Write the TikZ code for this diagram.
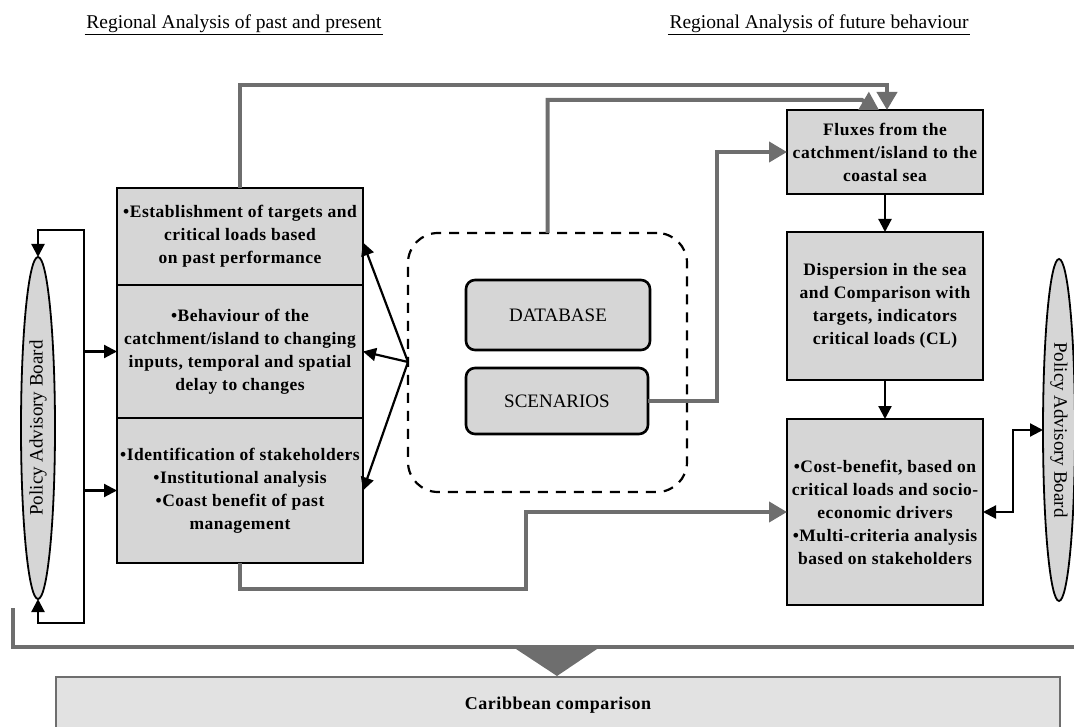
\documentclass[tikz,border=0pt]{standalone}
\usepackage{fontspec}
\setmainfont{Liberation Serif}
\newfontfamily\boxfont[LetterSpace=3]{Liberation Serif}
\usepackage{tikz}
\usepackage{xcolor}
\usetikzlibrary{arrows.meta,positioning,calc,shapes.geometric}
\definecolor{cFill}{HTML}{D6D6D6}
\definecolor{cLight}{HTML}{E2E2E2}
\definecolor{cGray}{HTML}{6E6E6E}
\definecolor{cInk}{HTML}{000000}
\tikzset{
  >={Triangle[length=13pt,width=13pt]},
  box/.style   ={draw=cInk,line width=2.6pt,fill=cFill,align=center,outer sep=0pt,
                 inner sep=2pt,font=\boxfont\bfseries\fontsize{17.5}{23}\selectfont},
  dbbox/.style ={box,rounded corners=9pt,font=\fontsize{19}{22}\selectfont},
  dashbox/.style={draw=cInk,line width=2.2pt,dash pattern=on 10pt off 8pt,
                 rounded corners=30pt,outer sep=0pt},
  pab/.style   ={ellipse,draw=cInk,line width=1.8pt,fill=cFill,minimum width=34pt,
                 minimum height=342pt,inner sep=0pt,outer sep=0pt},
  pabtxt/.style={font=\fontsize{19}{20}\selectfont,inner sep=0pt},
  ar/.style    ={->,line width=2.2pt,cInk},
  garr/.style  ={->,line width=4pt,cGray,>={Triangle[length=18pt,width=20pt]}},
  gline/.style ={line width=4pt,cGray},
  hd/.style    ={font=\fontsize{19.5}{22}\selectfont,inner sep=1.5pt},
  cbox/.style  ={draw=cGray,line width=1.5pt,fill=cLight,
                 font=\boxfont\bfseries\fontsize{18}{20}\selectfont},
}
\begin{document}
\begin{tikzpicture}[x=1pt,y=-1pt]
\useasboundingbox (0,0) rectangle (1074,727);

% headings
\node[hd] (hPast) at (234,24) {Regional Analysis of past and present};
\draw[line width=1.6pt] (hPast.south west) -- (hPast.south east);
\node[hd] (hFuture) at (819,24) {Regional Analysis of future behaviour};
\draw[line width=1.6pt] (hFuture.south west) -- (hFuture.south east);

% left: past and present
\node[box,minimum width=246pt,minimum height=97pt] (B1) at (240,236.5)
  {\textbullet Establishment of targets and\\critical loads based\\on past performance};
\node[box,minimum width=246pt,minimum height=133pt,below=0pt of B1] (B2)
  {\textbullet Behaviour of the\\catchment/island to changing\\inputs, temporal and spatial\\delay to changes};
\node[box,minimum width=246pt,minimum height=145pt,below=0pt of B2] (B3)
  {\textbullet Identification of stakeholders\\\textbullet Institutional analysis\\\textbullet Coast benefit of past\\management};

% middle: data
\node[dashbox,minimum width=279pt,minimum height=259pt] (dash) at (547.5,362.5) {};
\node[dbbox,minimum width=184pt,minimum height=70pt] (DB) at (558,315) {DATABASE};
\node[dbbox,minimum width=182pt,minimum height=66pt] (Scen) at (557,401) {SCENARIOS};
\coordinate (hub) at (408,362);

% right: future behaviour
\node[box,minimum width=196pt,minimum height=84pt] (Fluxes) at (885,152)
  {Fluxes from the\\catchment/island to the\\coastal sea};
\node[box,minimum width=196pt,minimum height=148pt,below=38pt of Fluxes] (Disp)
  {Dispersion in the sea\\and Comparison with\\targets, indicators\\critical loads (CL)};
\node[box,minimum width=196pt,minimum height=186pt,below=39pt of Disp] (Cost)
  {\textbullet Cost-benefit, based on\\critical loads and socio-\\economic drivers\\\textbullet Multi-criteria analysis\\based on stakeholders};

% policy boards
\node[pab] (PABl) at (38,428) {};
\node[pabtxt,rotate=90] (PABlt) at (PABl) {Policy Advisory Board};
\node[pab,minimum width=32pt] (PABr) at (1059,430) {};
\node[pabtxt,rotate=-90] (PABrt) at (PABr) {Policy Advisory Board};

% black connectors
\coordinate (lT) at (84,230);
\coordinate (lB) at (84,623);
\draw[ar,<->] (PABl.north) |- (lT) -- (lB) -| (PABl.south);
\draw[ar] (B2.west -| lT) -- (B2.west);
\draw[ar] (B3.west -| lT) -- (B3.west);
\draw[ar] (hub) -- ([yshift=-6pt]B1.east);
\draw[ar] (hub) -- (B2.east);
\draw[ar] (hub) -- (B3.east);
\draw[ar] (Fluxes.south) -- (Disp.north);
\draw[ar] (Disp.south) -- (Cost.north);
\draw[ar,<->] (Cost.east) -- ++(30,0) |- (PABr.west);

% grey connectors
\coordinate (t1) at (887,85);
\coordinate (t2) at (862,100);
\coordinate (b1) at (526,589);
\draw[garr] (B1.north) |- (t1) -- ([xshift=2pt]Fluxes.north);
\draw[garr] (dash.north) |- (t2) -- ([xshift=-6pt]Fluxes.north);
\draw[garr] (Scen.east) -- ++(69,0) |- (Fluxes.west);
\draw[garr] (B3.south) |- (b1) |- (Cost.west);

% comparison
\draw[gline] (13,608) |- (1080,647);
\fill[cGray] (513,647) -- (600,647) -- (557,676) -- cycle;
\node[cbox,minimum width=1004pt,minimum height=56pt] (Car) at (558,705) {Caribbean comparison};
\end{tikzpicture}
\end{document}
